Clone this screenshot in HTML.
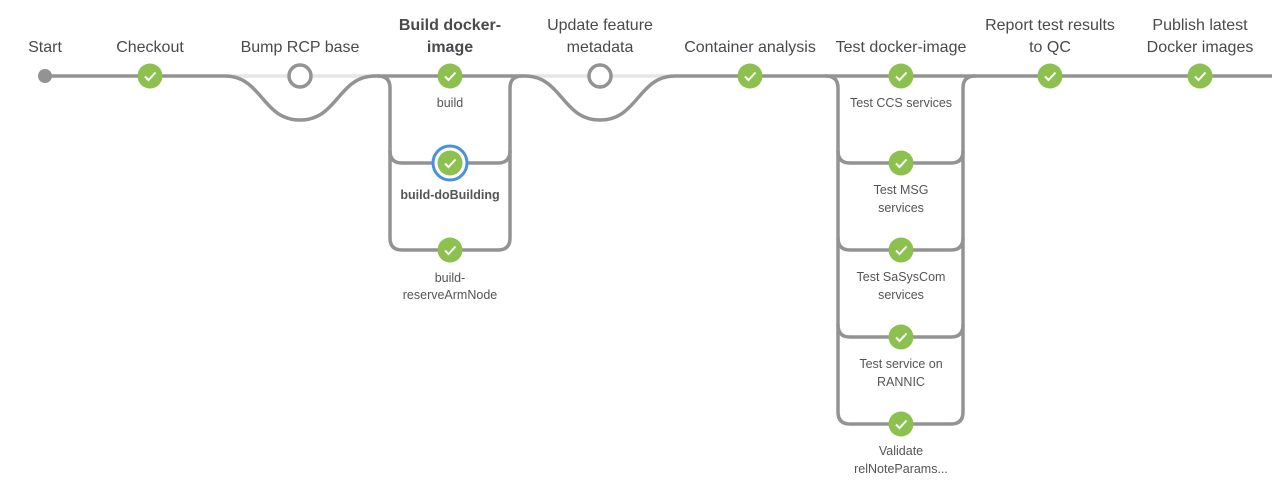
<!DOCTYPE html>
<html><head><style>
html,body{margin:0;padding:0;background:#fff;width:1272px;height:489px;overflow:hidden}
svg{display:block}
text{font-family:"Liberation Sans",sans-serif;fill:#4a4a4a;text-anchor:middle}
.t{font-size:16px}
.s{font-size:12.5px;fill:#555}
.ln{stroke:#949393;stroke-width:3.5;fill:none;stroke-linecap:round}
</style></head><body>
<svg width="1272" height="489" viewBox="0 0 1272 489">
<defs>
<g id="ok"><circle r="12.5" fill="#8cc04f"/><path d="M-5,0.5 L-1.5,4 L5.5,-3.5" stroke="#fff" stroke-width="2" fill="none"/></g>
<g id="skip"><circle r="11" fill="#fff" stroke="#949393" stroke-width="3.5"/></g>
</defs>
<!-- skipped light lines -->
<line x1="228" y1="76" x2="378" y2="76" stroke="#e6e6e6" stroke-width="3.5"/>
<line x1="522" y1="76" x2="672" y2="76" stroke="#e6e6e6" stroke-width="3.5"/>
<!-- main lines -->
<path class="ln" d="M45,76 H225 C262,76 262,120 300,120 C338,120 338,76 375,76 H525 C562,76 562,120 600,120 C638,120 638,76 675,76 H1272"/>
<!-- build parallel -->
<path class="ln" d="M378,76 Q390,76 390,88 V238 Q390,250 402,250 H498 Q510,250 510,238 V88 Q510,76 522,76"/>
<path class="ln" d="M390,151 Q390,163 402,163 H498 Q510,163 510,151"/>
<!-- test parallel -->
<path class="ln" d="M826,76 Q838,76 838,88 V412 Q838,424 850,424 H951 Q963,424 963,412 V88 Q963,76 975,76"/>
<path class="ln" d="M838,151 Q838,163 850,163 H951 Q963,163 963,151"/>
<path class="ln" d="M838,238 Q838,250 850,250 H951 Q963,250 963,238"/>
<path class="ln" d="M838,325 Q838,337 850,337 H951 Q963,337 963,325"/>
<!-- nodes -->
<circle cx="45" cy="76" r="7" fill="#949393"/>
<use href="#ok" x="150" y="76"/>
<use href="#skip" x="300" y="76"/>
<use href="#ok" x="450" y="76"/>
<circle cx="450" cy="163" r="17" fill="#fff" stroke="#4a90e2" stroke-width="3"/>
<use href="#ok" x="450" y="163"/>
<use href="#ok" x="450" y="250"/>
<use href="#skip" x="600" y="76"/>
<use href="#ok" x="750" y="76"/>
<use href="#ok" x="901" y="76"/>
<use href="#ok" x="901" y="163"/>
<use href="#ok" x="901" y="250"/>
<use href="#ok" x="901" y="337"/>
<use href="#ok" x="901" y="424"/>
<use href="#ok" x="1050" y="76"/>
<use href="#ok" x="1200" y="76"/>
<!-- top labels -->
<text class="t" x="45" y="52">Start</text>
<text class="t" x="150" y="52">Checkout</text>
<text class="t" x="300" y="52">Bump RCP base</text>
<text class="t" x="450" y="30" font-weight="bold">Build docker-</text>
<text class="t" x="450" y="52" font-weight="bold">image</text>
<text class="t" x="600" y="30">Update feature</text>
<text class="t" x="600" y="52">metadata</text>
<text class="t" x="750" y="52">Container analysis</text>
<text class="t" x="901" y="52">Test docker-image</text>
<text class="t" x="1050" y="30">Report test results</text>
<text class="t" x="1050" y="52">to QC</text>
<text class="t" x="1200" y="30">Publish latest</text>
<text class="t" x="1200" y="52">Docker images</text>
<!-- branch labels -->
<text class="s" x="450" y="107">build</text>
<text class="s" x="450" y="199" font-weight="bold">build-doBuilding</text>
<text class="s" x="450" y="282">build-</text>
<text class="s" x="450" y="299">reserveArmNode</text>
<text class="s" x="901" y="107">Test CCS services</text>
<text class="s" x="901" y="194">Test MSG</text>
<text class="s" x="901" y="212">services</text>
<text class="s" x="901" y="281">Test SaSysCom</text>
<text class="s" x="901" y="299">services</text>
<text class="s" x="901" y="368">Test service on</text>
<text class="s" x="901" y="386">RANNIC</text>
<text class="s" x="901" y="455">Validate</text>
<text class="s" x="901" y="473">relNoteParams...</text>
</svg>
</body></html>
